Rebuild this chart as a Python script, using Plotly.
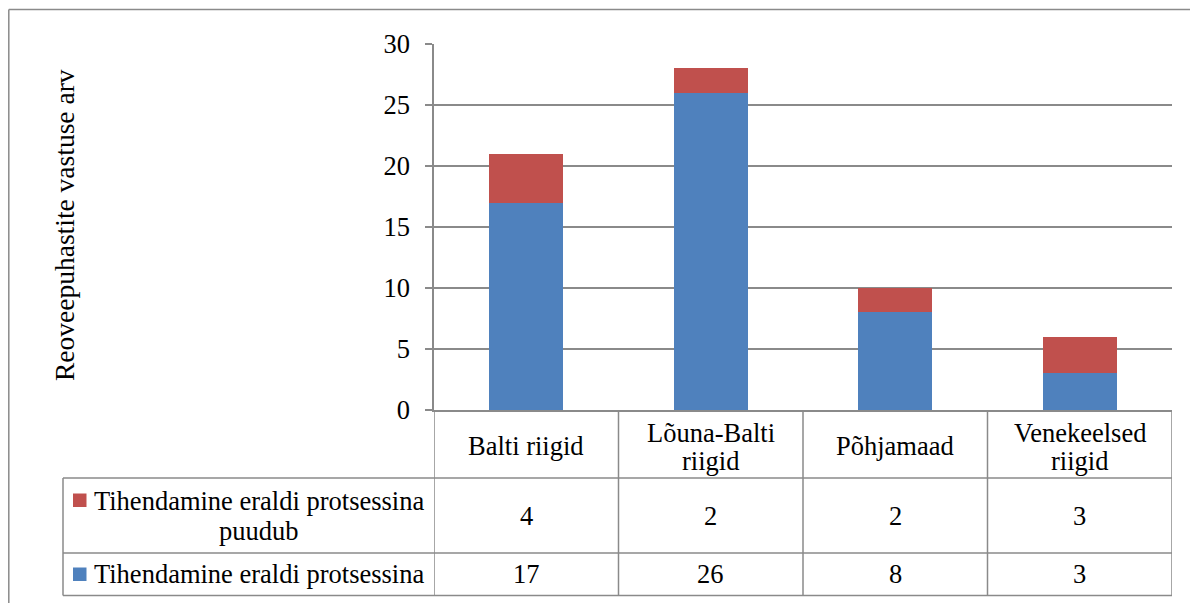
import plotly.graph_objects as go

# ---- data ----
categories = ["Balti riigid", "Lõuna-Balti riigid", "Põhjamaad", "Venekeelsed riigid"]
category_lines = [["Balti riigid"], ["Lõuna-Balti", "riigid"], ["Põhjamaad"], ["Venekeelsed", "riigid"]]
series_with_name = "Tihendamine eraldi protsessina"
series_without_name = "Tihendamine eraldi protsessina puudub"
series_without_lines = ["Tihendamine eraldi protsessina", "puudub"]
values_with = [17, 26, 8, 3]
values_without = [4, 2, 2, 3]
y_ticks = [0, 5, 10, 15, 20, 25, 30]
y_title = "Reoveepuhastite vastuse arv"

# ---- style ----
BLUE = "#4F81BD"
RED = "#C0504D"
GRID = "#8A8A8A"
FONT = "Liberation Serif"
FS = 26.5
PAGE_W, PAGE_H = 1198, 603
OFF = 8  # page body margin
W, H = PAGE_W - OFF, PAGE_H - OFF
L, R, T, B = 434, 1172, 44, 410  # plot area in page pixels

def px(x):
    return (x - L) / (R - L)

def py(y):
    return (B - y) / (B - T)

fig = go.Figure()
fig.add_trace(go.Bar(x=categories, y=values_with, name=series_with_name,
                     marker=dict(color=BLUE, line=dict(width=0))))
fig.add_trace(go.Bar(x=categories, y=values_without, name=series_without_name,
                     marker=dict(color=RED, line=dict(width=0))))

shapes = []
line = dict(color=GRID, width=1.5)
# outer chart frame
shapes.append(dict(type="line", xref="paper", yref="paper", x0=px(8.8), x1=px(1300),
                   y0=py(9.5), y1=py(9.5), line=line))
shapes.append(dict(type="line", xref="paper", yref="paper", x0=px(8.8), x1=px(8.8),
                   y0=py(9.5), y1=py(700), line=line))
# table horizontal lines
for yy in [478, 553, 595.5]:
    shapes.append(dict(type="line", xref="paper", yref="paper", x0=px(63), x1=1,
                       y0=py(yy), y1=py(yy), line=line))
# legend column left line
shapes.append(dict(type="line", xref="paper", yref="paper", x0=px(63), x1=px(63),
                   y0=py(478), y1=py(595.5), line=line))
# category column lines (data coordinates)
for i in range(len(categories) + 1):
    shapes.append(dict(type="line", xref="x", yref="paper", x0=i - 0.5, x1=i - 0.5,
                       y0=0, y1=py(595.5), line=line))
# legend swatches
shapes.append(dict(type="rect", xref="paper", yref="paper", x0=px(73), x1=px(86.5),
                   y0=py(507), y1=py(493.5), fillcolor=RED, line=dict(width=0)))
shapes.append(dict(type="rect", xref="paper", yref="paper", x0=px(73), x1=px(86.5),
                   y0=py(581), y1=py(567.5), fillcolor=BLUE, line=dict(width=0)))

annotations = []
tf = dict(family=FONT, size=FS, color="black")
# y-axis title
annotations.append(dict(text=y_title, xref="paper", yref="paper", x=px(64), y=py(225),
                        textangle=-90, showarrow=False,
                        font=dict(family=FONT, size=27.5, color="black"),
                        xanchor="center", yanchor="middle"))
# category labels
for i, lines in enumerate(category_lines):
    if len(lines) == 1:
        ys = [446]
    else:
        ys = [433, 461]
    for txt, yy in zip(lines, ys):
        annotations.append(dict(text=txt, xref="x", yref="paper", x=i, y=py(yy),
                                showarrow=False, font=tf, xanchor="center", yanchor="middle"))
# table values
for i, v in enumerate(values_without):
    annotations.append(dict(text=str(v), xref="x", yref="paper", x=i, y=py(516),
                            showarrow=False, font=tf, xanchor="center", yanchor="middle"))
for i, v in enumerate(values_with):
    annotations.append(dict(text=str(v), xref="x", yref="paper", x=i, y=py(574),
                            showarrow=False, font=tf, xanchor="center", yanchor="middle"))
# legend labels
annotations.append(dict(text=series_without_lines[0], xref="paper", yref="paper",
                        x=px(92), y=py(501), showarrow=False, font=tf,
                        xanchor="left", yanchor="middle"))
annotations.append(dict(text=series_without_lines[1], xref="paper", yref="paper",
                        x=px(259), y=py(531), showarrow=False, font=tf,
                        xanchor="center", yanchor="middle"))
annotations.append(dict(text=series_with_name, xref="paper", yref="paper",
                        x=px(92), y=py(574), showarrow=False, font=tf,
                        xanchor="left", yanchor="middle"))

fig.update_layout(
    barmode="stack",
    bargap=0.6,
    width=W, height=H,
    margin=dict(l=L - OFF, r=PAGE_W - R, t=T - OFF, b=PAGE_H - B, pad=0),
    paper_bgcolor="white",
    plot_bgcolor="white",
    showlegend=False,
    font=tf,
    shapes=shapes,
    annotations=annotations,
    xaxis=dict(range=[-0.5, len(categories) - 0.5], showticklabels=False, ticks="",
               showgrid=False, showline=True, linecolor=GRID, linewidth=1.5, zeroline=False),
    yaxis=dict(range=[0, 30], tickvals=y_ticks, ticks="outside", ticklen=7,
               tickcolor=GRID, tickwidth=1.5, showgrid=True, gridcolor=GRID, gridwidth=1.5,
               showline=True, linecolor=GRID, linewidth=1.5, zeroline=False,
               tickfont=tf, ticklabelstandoff=10),
)

fig.write_html("out.html")
